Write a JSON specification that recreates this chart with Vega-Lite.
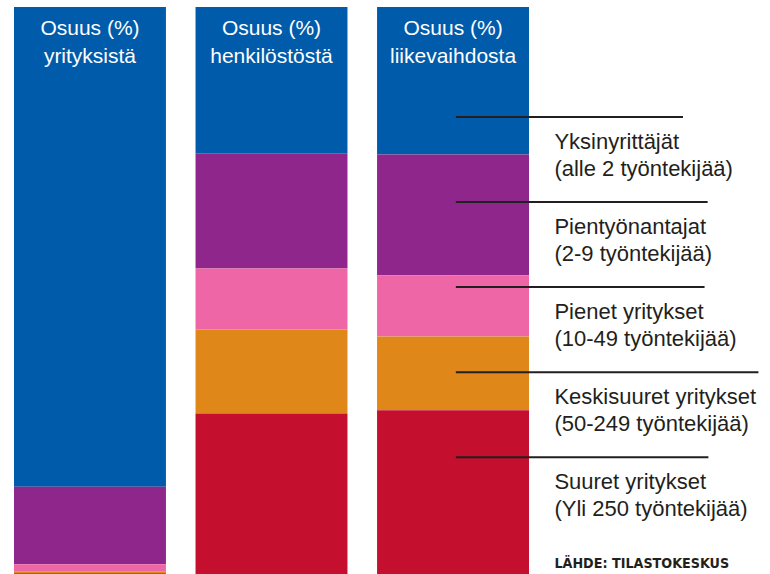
{
  "$schema": "https://vega.github.io/schema/vega-lite/v6.json",
  "width": 770,
  "height": 574,
  "autosize": {"type": "fit", "contains": "padding"},
  "padding": {"top": 7, "left": 0, "right": 0, "bottom": 0},
  "background": "white",
  "config": {"view": {"stroke": null}},
  "datasets": {
    "bars": [
      {"col": "yrityksistä", "size": "Yksinyrittäjät", "order": 1, "share": 84.6},
      {"col": "yrityksistä", "size": "Pientyönantajat", "order": 2, "share": 13.7},
      {"col": "yrityksistä", "size": "Pienet yritykset", "order": 3, "share": 1.2},
      {"col": "yrityksistä", "size": "Keskisuuret yritykset", "order": 4, "share": 0.35},
      {"col": "yrityksistä", "size": "Suuret yritykset", "order": 5, "share": 0.15},
      {"col": "henkilöstöstä", "size": "Yksinyrittäjät", "order": 1, "share": 25.8},
      {"col": "henkilöstöstä", "size": "Pientyönantajat", "order": 2, "share": 20.3},
      {"col": "henkilöstöstä", "size": "Pienet yritykset", "order": 3, "share": 10.8},
      {"col": "henkilöstöstä", "size": "Keskisuuret yritykset", "order": 4, "share": 14.8},
      {"col": "henkilöstöstä", "size": "Suuret yritykset", "order": 5, "share": 28.3},
      {"col": "liikevaihdosta", "size": "Yksinyrittäjät", "order": 1, "share": 26.0},
      {"col": "liikevaihdosta", "size": "Pientyönantajat", "order": 2, "share": 21.3},
      {"col": "liikevaihdosta", "size": "Pienet yritykset", "order": 3, "share": 10.8},
      {"col": "liikevaihdosta", "size": "Keskisuuret yritykset", "order": 4, "share": 13.0},
      {"col": "liikevaihdosta", "size": "Suuret yritykset", "order": 5, "share": 28.9}
    ],
    "columns": [
      {"col": "yrityksistä", "heading": "Osuus (%)\nyrityksistä"},
      {"col": "henkilöstöstä", "heading": "Osuus (%)\nhenkilöstöstä"},
      {"col": "liikevaihdosta", "heading": "Osuus (%)\nliikevaihdosta"}
    ],
    "notes": [
      {"label": "Yksinyrittäjät\n(alle 2 työntekijää)", "pos": 19.4, "lineStart": 59.2, "lineEnd": 88.7},
      {"label": "Pientyönantajat\n(2-9 työntekijää)", "pos": 34.4, "lineStart": 59.2, "lineEnd": 91.9},
      {"label": "Pienet yritykset\n(10-49 työntekijää)", "pos": 49.4, "lineStart": 59.2, "lineEnd": 91.5},
      {"label": "Keskisuuret yritykset\n(50-249 työntekijää)", "pos": 64.4, "lineStart": 59.2, "lineEnd": 98.5},
      {"label": "Suuret yritykset\n(Yli 250 työntekijää)", "pos": 79.4, "lineStart": 59.2, "lineEnd": 92.0}
    ],
    "source": [{"text": "LÄHDE: TILASTOKESKUS"}]
  },
  "layer": [
    {
      "layer": [
        {
          "data": {"name": "bars"},
          "mark": {"type": "bar"},
          "encoding": {
            "x": {
              "field": "col", "type": "nominal", "sort": null, "axis": null,
              "scale": {"domain": ["yrityksistä", "henkilöstöstä", "liikevaihdosta"], "range": [14, 529], "paddingInner": 0.163, "paddingOuter": 0}
            },
            "y": {
              "field": "share", "type": "quantitative", "stack": "zero", "axis": null,
              "scale": {"domain": [0, 100], "reverse": true, "nice": false, "zero": true}
            },
            "color": {
              "field": "size", "type": "nominal", "legend": null,
              "scale": {
                "domain": ["Yksinyrittäjät", "Pientyönantajat", "Pienet yritykset", "Keskisuuret yritykset", "Suuret yritykset"],
                "range": ["#005baa", "#8f268b", "#ef66a6", "#e08719", "#c4102e"]
              }
            },
            "order": {"field": "order", "type": "quantitative"}
          }
        },
        {
          "data": {"name": "columns"},
          "mark": {"type": "text", "color": "white", "font": "Liberation Sans", "fontSize": 21, "baseline": "alphabetic", "align": "center", "lineBreak": "\n", "lineHeight": 28, "dy": 28},
          "encoding": {
            "x": {"field": "col", "type": "nominal", "sort": null},
            "y": {"datum": 0, "type": "quantitative"},
            "text": {"field": "heading"}
          }
        }
      ]
    },
    {
      "layer": [
        {
          "data": {"name": "notes"},
          "mark": {"type": "rule", "color": "#231f20", "strokeWidth": 2},
          "encoding": {
            "x": {"field": "lineStart", "type": "quantitative", "axis": null, "scale": {"domain": [0, 100], "nice": false, "zero": false}},
            "x2": {"field": "lineEnd"},
            "y": {"field": "pos", "type": "quantitative"}
          }
        },
        {
          "data": {"name": "notes"},
          "mark": {"type": "text", "align": "left", "baseline": "alphabetic", "dy": 32, "fontSize": 22, "lineHeight": 27, "lineBreak": "\n", "color": "#231f20", "font": "Liberation Sans"},
          "encoding": {
            "x": {"datum": 72, "type": "quantitative"},
            "y": {"field": "pos", "type": "quantitative"},
            "text": {"field": "label"}
          }
        },
        {
          "data": {"name": "source"},
          "mark": {"type": "text", "align": "left", "baseline": "alphabetic", "dy": -6, "fontSize": 14.2, "fontWeight": "bold", "font": "DejaVu Sans Condensed, DejaVu Sans, sans-serif", "color": "#231f20"},
          "encoding": {
            "x": {"datum": 72, "type": "quantitative"},
            "y": {"datum": 100, "type": "quantitative"},
            "text": {"field": "text"}
          }
        }
      ]
    }
  ],
  "resolve": {"scale": {"x": "independent", "y": "shared"}}
}
